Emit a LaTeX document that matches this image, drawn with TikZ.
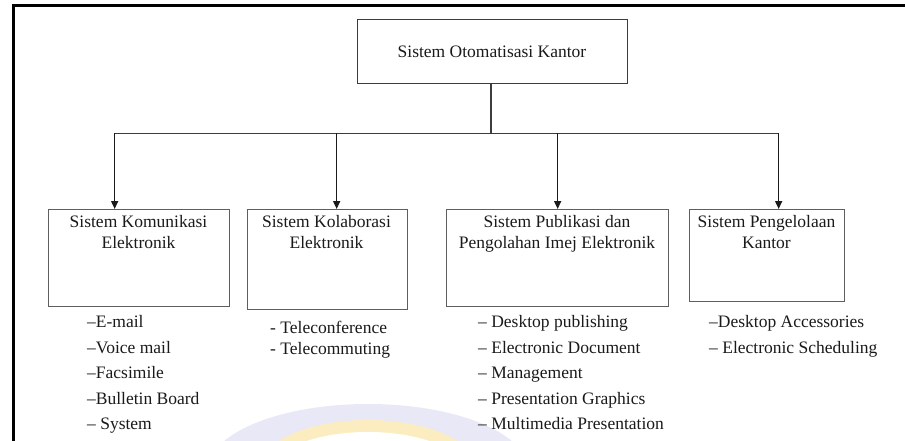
\documentclass[tikz,border=0pt]{standalone}
\usepackage{fontspec}
\setmainfont{Liberation Serif}
\usetikzlibrary{arrows.meta}
\definecolor{ink}{HTML}{1A1A1A}
\definecolor{boxline}{HTML}{5E5E5E}
\definecolor{wmblue}{HTML}{E8E8F6}
\definecolor{wmgold}{HTML}{FBEDBF}
\tikzset{
  frame/.style={line width=2.4pt, black},
  box/.style={draw=boxline, line width=1.3pt, rectangle, inner sep=0pt, anchor=north west},
  topbox/.style={draw=ink!85, line width=1.4pt, rectangle, inner sep=0pt, anchor=north west},
  title/.style={text=ink, align=center, inner sep=0pt, font=\fontsize{17.5}{21}\selectfont},
  item/.style={text=ink, anchor=base west, inner sep=0pt, font=\fontsize{17.5}{21}\selectfont},
  bus/.style={draw=ink!85, line width=1.2pt},
  arr/.style={draw=ink, line width=1.6pt, -{Triangle[length=8pt,width=7pt]}}
}
\begin{document}
\begin{tikzpicture}[x=1pt,y=-1pt]
  \useasboundingbox (0,0) rectangle (905,441);
  % faint seal printed behind the chart
  \begin{scope}
    \clip (0,0) rectangle (905,441);
    \fill[wmblue] (368,470) ellipse [x radius=160, y radius=66];
    \fill[wmgold] (368,470) ellipse [x radius=110, y radius=50];
    \fill[white] (368,470) ellipse [x radius=95, y radius=38];
  \end{scope}
  % open frame: left and top edges
  \draw[frame] (13.5,441) -- (13.5,5.7) -- (905,5.7);

  % root box
  \node[topbox, minimum width=270pt, minimum height=64pt] (top) at (357,19) {};
  \node[title] (toptext) at (492,52) {Sistem Otomatisasi Kantor};

  % second-level boxes
  \node[box, minimum width=181pt, minimum height=97pt] (b1) at (48,209) {};
  \node[box, minimum width=160pt, minimum height=100pt] (b2) at (247,209) {};
  \node[box, minimum width=222pt, minimum height=97pt] (b3) at (446,209) {};
  \node[box, minimum width=155pt, minimum height=92pt] (b4) at (689,209) {};

  \node[title, anchor=base] (t1) at (138.5,248) {Sistem Komunikasi\\Elektronik};
  \node[title, anchor=base] (t2) at (326.5,248) {Sistem Kolaborasi\\Elektronik};
  \node[title, anchor=base] (t3) at (557,248) {Sistem Publikasi dan\\Pengolahan Imej Elektronik};
  \node[title, anchor=base] (t4) at (766.5,248) {Sistem Pengelolaan\\Kantor};

  % connectors: trunk, bus and the four drops
  \coordinate (hub) at (491,133.5);
  \coordinate (a1) at ([xshift=-24.5pt]b1.north);
  \coordinate (a2) at ([xshift=9pt]b2.north);
  \coordinate (a3) at (b3.north);
  \coordinate (a4) at ([xshift=11.5pt]b4.north);
  \draw[bus] (hub |- top.south) -- (hub);
  \draw[bus] (hub -| a1) -- (hub -| a4);
  \foreach \a in {a1,a2,a3,a4}
    \draw[arr] (hub -| \a) -- (\a);

  % item lists
  \foreach \t [count=\k] in {--E-mail, --Voice mail, --Facsimile, --Bulletin Board, -- System}
    \node[item] (i1-\k) at (87,{327.5+25.5*(\k-1)}) {\t};
  \foreach \t [count=\k] in {- Teleconference, - Telecommuting}
    \node[item] (i2-\k) at (270,{333+21*(\k-1)}) {\t};
  \foreach \t [count=\k] in {-- Desktop publishing, -- Electronic Document, -- Management, -- Presentation Graphics, -- Multimedia Presentation}
    \node[item] (i3-\k) at (478,{327.5+25.5*(\k-1)}) {\t};
  \foreach \t [count=\k] in {--Desktop Accessories, -- Electronic Scheduling}
    \node[item] (i4-\k) at (709,{327.5+25.5*(\k-1)}) {\t};
\end{tikzpicture}
\end{document}
